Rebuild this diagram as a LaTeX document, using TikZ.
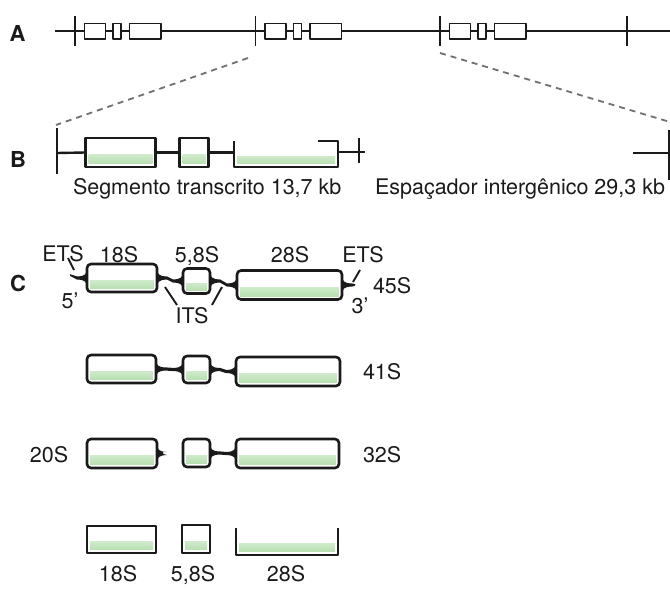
\documentclass[tikz,border=0pt]{standalone}
\usepackage{fontspec}
\setmainfont{TeX Gyre Heros}
\usetikzlibrary{calc}
\definecolor{rnaInk}{HTML}{1A1A1A}
\definecolor{rnaGreen}{HTML}{ADDBA5}
\definecolor{rnaGray}{HTML}{707070}
\tikzset{
  rna diagram/.style={x=1pt, y=-1pt, line join=round,
    every node/.style={font=\fontsize{21.5}{25}\selectfont,
      text=rnaInk, inner sep=0pt, outer sep=0pt}},
  panel tag/.style={font=\bfseries\fontsize{22}{26}\selectfont},
  gene line/.style={draw=rnaInk, line width=1.6pt},
  gene box/.style={draw=rnaInk, line width=1.9pt, fill=white},
  zoom guide/.style={draw=rnaGray, line width=1.8pt, dash pattern=on 6pt off 5pt},
  rna shade/.style={path picture={\shade[sharp corners, top color=white,
      bottom color=rnaGreen]
      ($(path picture bounding box.south west)+(3pt,3.5pt)$) rectangle
      ($(path picture bounding box.east)+(-3pt,-2pt)$);}},
  rna box/.style={rna shade, draw=rnaInk, line width=2.6pt, rounded corners=4pt},
  rna seg/.style={rna shade, draw=rnaInk, line width=2.6pt},
  rna tie/.style={fill=rnaInk},
  rna tick/.style={draw=rnaInk, line width=1.9pt}
}
% flared tie between two boxes
\newcommand{\RnaTie}[2]{%
  \fill[rna tie] let \p1=(#1.east), \p2=(#2.west) in
    (\x1,\y1-10) .. controls (\x1,\y1-4) and (\x1+2,\y1-1.6) .. (\x1+10,\y1-1.6)
    -- (\x2-10,\y2-1.6) .. controls (\x2-2,\y2-1.6) and (\x2,\y2-4) .. (\x2,\y2-10)
    -- (\x2,\y2+10) .. controls (\x2,\y2+4) and (\x2-2,\y2+1.6) .. (\x2-10,\y2+1.6)
    -- (\x1+10,\y1+1.6) .. controls (\x1+2,\y1+1.6) and (\x1,\y1+4) .. (\x1,\y1+10)
    -- cycle;}
% free tail on the left / right of a box
\newcommand{\RnaTailL}[2]{%
  \fill[rna tie] let \p1=(#1), \p2=(#2.west) in
    (\x1,\y1-0.8) -- (\x2-10,\y2-1.6) .. controls (\x2-2,\y2-1.6) and (\x2,\y2-4) .. (\x2,\y2-10)
    -- (\x2,\y2+10) .. controls (\x2,\y2+4) and (\x2-2,\y2+1.6) .. (\x2-10,\y2+1.6)
    -- (\x1,\y1+0.8) -- cycle;}
\newcommand{\RnaTailR}[2]{%
  \fill[rna tie] let \p1=(#2.east), \p2=(#1) in
    (\x1,\y1-10) .. controls (\x1,\y1-4) and (\x1+2,\y1-1.6) .. (\x1+10,\y1-1.6)
    -- (\x2,\y2-0.8) -- (\x2,\y2+0.8)
    -- (\x1+10,\y1+1.6) .. controls (\x1+2,\y1+1.6) and (\x1,\y1+4) .. (\x1,\y1+10)
    -- cycle;}

\begin{document}
\begin{tikzpicture}[rna diagram]
  \useasboundingbox (0,0) rectangle (670,589);

  % A: tandem repeats
  \node[panel tag] (tagA) at (17.5,33) {A};
  \draw[gene line] (55,31) -- (670,31);
  \foreach \t in {75,255.5,440,627}
    \draw[gene line] (\t,16) -- (\t,46);
  \foreach \t in {75,255.5,440}{
    \draw[gene box] (\t+9.5,23.5) rectangle (\t+30.5,39);
    \draw[gene box] (\t+38,23.5) rectangle (\t+46,39);
    \draw[gene box] (\t+54.5,23.5) rectangle (\t+86,39);
  }
  \coordinate (zL1) at (248,58);
  \coordinate (zL2) at (56,125);
  \coordinate (zR1) at (440,53);
  \coordinate (zR2) at (670,122);
  \draw[zoom guide] (zL1) -- (zL2);
  \draw[zoom guide] (zR1) -- (zR2);

  % B: one repeat
  \node[panel tag] (tagB) at (18,159) {B};
  \coordinate (bL) at (57,153);
  \draw[rna tick, line width=2.2pt] (57,128) -- (57,174);
  \node[rna seg, minimum width=70, minimum height=29] (b18) at (120.5,152.5) {};
  \node[rna seg, minimum width=29, minimum height=29] (b58) at (194,152.5) {};
  \node[rna shade, minimum width=104, minimum height=26] (b28) at (286,154) {};
  \draw[rna tick, line width=2.4pt] (bL) -- (b18.west);
  \draw[rna tick, line width=2.4pt] (b18.east) -- (b58.west);
  \draw[rna tick, line width=2.4pt] (b58.east) -- (b28.west |- b58.east);
  \draw[rna tick, line width=2.4pt] ([xshift=-20pt]b28.north east) -- (b28.north east)
    -- (b28.south east) -- (b28.south west) -- (b28.north west);
  \draw[rna tick, line width=1.4pt] (338,152) -- (365,152);
  \draw[rna tick] (359,138) -- (359,163);
  \draw[rna tick, line width=1.4pt] (633,153) -- (670,153);
  \draw[rna tick, line width=1.4pt] (669,130) -- (669,180);
  \node[anchor=base west] (txtSeg) at (73,194) {Segmento transcrito 13,7 kb};
  \node[anchor=base east] (txtEsp) at (665,194) {Espaçador intergênico 29,3 kb};

  % C: 45S precursor and its processing
  \node[panel tag] (tagC) at (18,283) {C};
  \node[rna box, minimum width=70, minimum height=28] (c18) at (122,278) {};
  \node[rna box, minimum width=27, minimum height=25] (c58) at (196.5,281) {};
  \node[rna box, minimum width=105, minimum height=29] (c28) at (289.5,285) {};
  \coordinate (c5end) at (70,275);
  \coordinate (c3end) at (355,285);
  \RnaTailL{c5end}{c18}
  \RnaTie{c18}{c58}
  \RnaTie{c58}{c28}
  \RnaTailR{c3end}{c28}
  \node[anchor=base] (etsL) at (63,261) {ETS};
  \node[anchor=base] (lb18) at (119,262) {18S};
  \node[anchor=base] (lb58) at (197,262) {5,8S};
  \node[anchor=base] (lb28) at (290,262) {28S};
  \node[anchor=base] (etsR) at (363,262) {ETS};
  \node[anchor=base west] (lb45) at (373,293) {45S};
  \node[anchor=base] (end5) at (70,308) {5’};
  \node[anchor=base] (its) at (192,323) {ITS};
  \node[anchor=base] (end3) at (360,313) {3’};
  \coordinate (etsLa) at (68,258);  \coordinate (etsLb) at (74,270);
  \coordinate (etsRa) at (360,270); \coordinate (etsRb) at (353,282);
  \coordinate (itsA) at (165,287);  \coordinate (itsB) at (177,305);
  \coordinate (itsC) at (222,287);  \coordinate (itsD) at (212,305);
  \draw[rna tick] (etsLa) -- (etsLb);
  \draw[rna tick] (etsRa) -- (etsRb);
  \draw[rna tick] (itsA) -- (itsB);
  \draw[rna tick] (itsC) -- (itsD);

  % 41S
  \node[rna box, minimum width=69, minimum height=28] (d18) at (121.5,369) {};
  \node[rna box, minimum width=27, minimum height=27] (d58) at (196.5,369.5) {};
  \node[rna box, minimum width=104, minimum height=29] (d28) at (288,371.5) {};
  \RnaTie{d18}{d58}
  \RnaTie{d58}{d28}
  \node[anchor=base west] (lb41) at (363,379) {41S};

  % 20S + 32S
  \node[rna box, minimum width=70, minimum height=29] (e18) at (122,453.5) {};
  \node[rna box, minimum width=27, minimum height=28] (e58) at (196.5,453) {};
  \node[rna box, minimum width=103, minimum height=29] (e28) at (287.5,453.5) {};
  \coordinate (e18end) at (163,453);
  \RnaTailR{e18end}{e18}
  \RnaTie{e58}{e28}
  \node[anchor=base west] (lb20) at (30,462) {20S};
  \node[anchor=base west] (lb32) at (363,462) {32S};

  % mature rRNAs
  \node[rna seg, minimum width=69, minimum height=27] (f18) at (121.5,539.5) {};
  \node[rna seg, minimum width=28, minimum height=28] (f58) at (196,539) {};
  \node[rna shade, minimum width=102, minimum height=27] (f28) at (287,541.5) {};
  \draw[rna tick, line width=2.4pt] (f28.north west) -- (f28.south west)
    -- (f28.south east) -- (f28.north east);
  \node[anchor=base] (lf18) at (118,581) {18S};
  \node[anchor=base] (lf58) at (193,581) {5,8S};
  \node[anchor=base] (lf28) at (286,581) {28S};
\end{tikzpicture}
\end{document}
